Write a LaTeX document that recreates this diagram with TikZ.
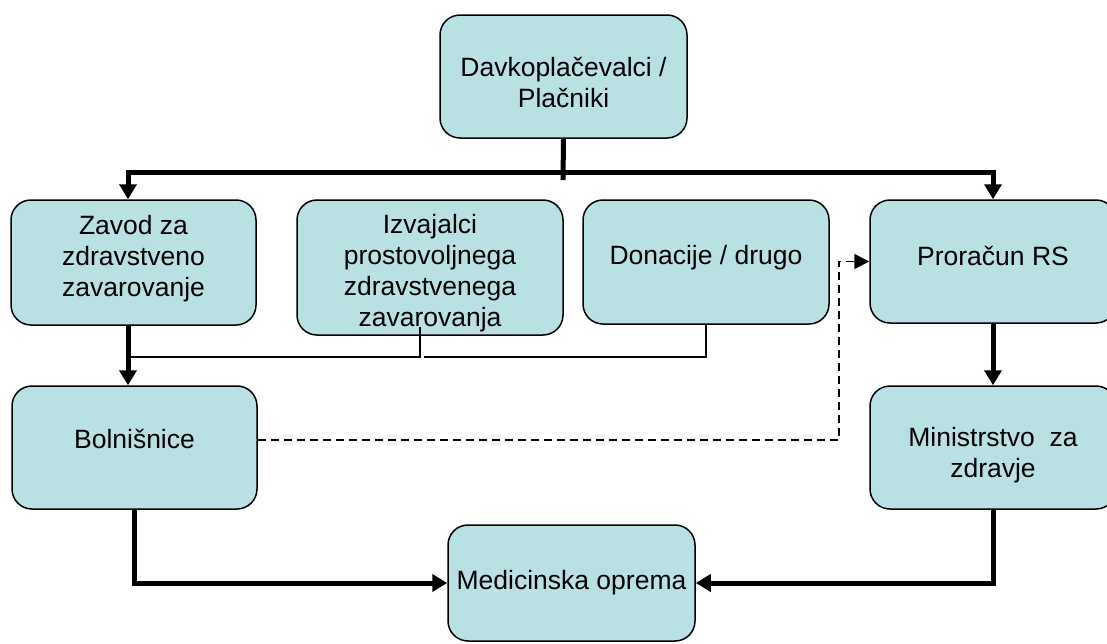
\documentclass[tikz,border=0pt]{standalone}
\usepackage{fontspec}
\setmainfont{Liberation Sans}
\usetikzlibrary{arrows.meta}
\definecolor{boxfill}{RGB}{185,224,227}
\tikzset{
  box/.style={draw, line width=1.5pt, fill=boxfill, rounded corners=20pt, inner sep=0pt},
  lbl/.style={align=center, font=\fontsize{26.5}{31}\selectfont, inner sep=0pt},
  thk/.style={line width=5pt},
  thn/.style={line width=2pt},
  arr/.style={-{Triangle[length=15pt,width=17pt]}},
  darr/.style={-{Triangle[length=15pt,width=15pt]}},
  dsh/.style={line width=1.5pt, dash pattern=on 8pt off 5pt},
}
\begin{document}
\begin{tikzpicture}[x=1pt,y=-1pt]
\useasboundingbox (0,0) rectangle (1107,643);
\node[box, minimum width=247pt, minimum height=123pt] (davk) at (563.5,76.5) {};
\node[box, minimum width=245pt, minimum height=125pt] (zavod) at (133.5,262.5) {};
\node[box, minimum width=266pt, minimum height=135pt] (izv) at (430,267.5) {};
\node[box, minimum width=246pt, minimum height=124pt] (don) at (706,262) {};
\node[box, minimum width=246pt, minimum height=123pt] (pror) at (993,261.5) {};
\node[box, minimum width=245pt, minimum height=123pt] (bol) at (134.5,447.5) {};
\node[box, minimum width=246pt, minimum height=123pt] (min) at (993,447.5) {};
\node[box, minimum width=247pt, minimum height=116pt] (med) at (571.5,583) {};

\node[lbl] (tdavk) at ([yshift=-6pt]davk.center) {Davkoplačevalci /\\Plačniki};
\node[lbl] (tzavod) at ([yshift=4pt]zavod.center) {Zavod za\\zdravstveno\\zavarovanje};
\node[lbl] (tizv) at ([yshift=-6pt]izv.center) {Izvajalci\\prostovoljnega\\zdravstvenega\\zavarovanja};
\node[lbl] (tdon) at ([yshift=4pt]don.center) {Donacije / drugo};
\node[lbl] (tpror) at ([yshift=6pt]pror.center) {Proračun RS};
\node[lbl] (tbol) at ([yshift=9pt]bol.center) {Bolnišnice};
\node[lbl] (tmin) at ([yshift=-8pt]min.center) {Ministrstvo~~za\\zdravje};
\node[lbl] (tmed) at (med.center) {Medicinska oprema};

\coordinate (hl) at (128,172);
\coordinate (hr) at (993,172);
\coordinate (tj) at (563,180);
\coordinate (jn) at (128,357);
\coordinate (iz) at (420,327);
\coordinate (ig) at (424,357);
\coordinate (dx) at (839,440);

% top distribution
\draw[thk] (davk.south) -- (tj);
\draw[thk, {Triangle[length=15pt,width=17pt]}-{Triangle[length=15pt,width=17pt]}]
  (hl |- zavod.north) -- (hl) -- (hr) -- (hr |- pror.north);

% collectors to hospitals
\draw[thn] (iz) -- (iz |- jn) -- (jn);
\draw[thn] (don.south) |- (ig);
\draw[thk, arr] (zavod.south -| hl) -- (bol.north -| hl);

% ministry chain
\draw[thk, arr] (pror.south) -- (min.north);

% to equipment
\draw[thk, arr] (bol.south) |- (med.west);
\draw[thk, arr] (min.south) |- (med.east);

% dashed
\draw[dsh, darr] (bol.east |- dx) -- (dx) |- (pror.west);
\end{tikzpicture}
\end{document}
